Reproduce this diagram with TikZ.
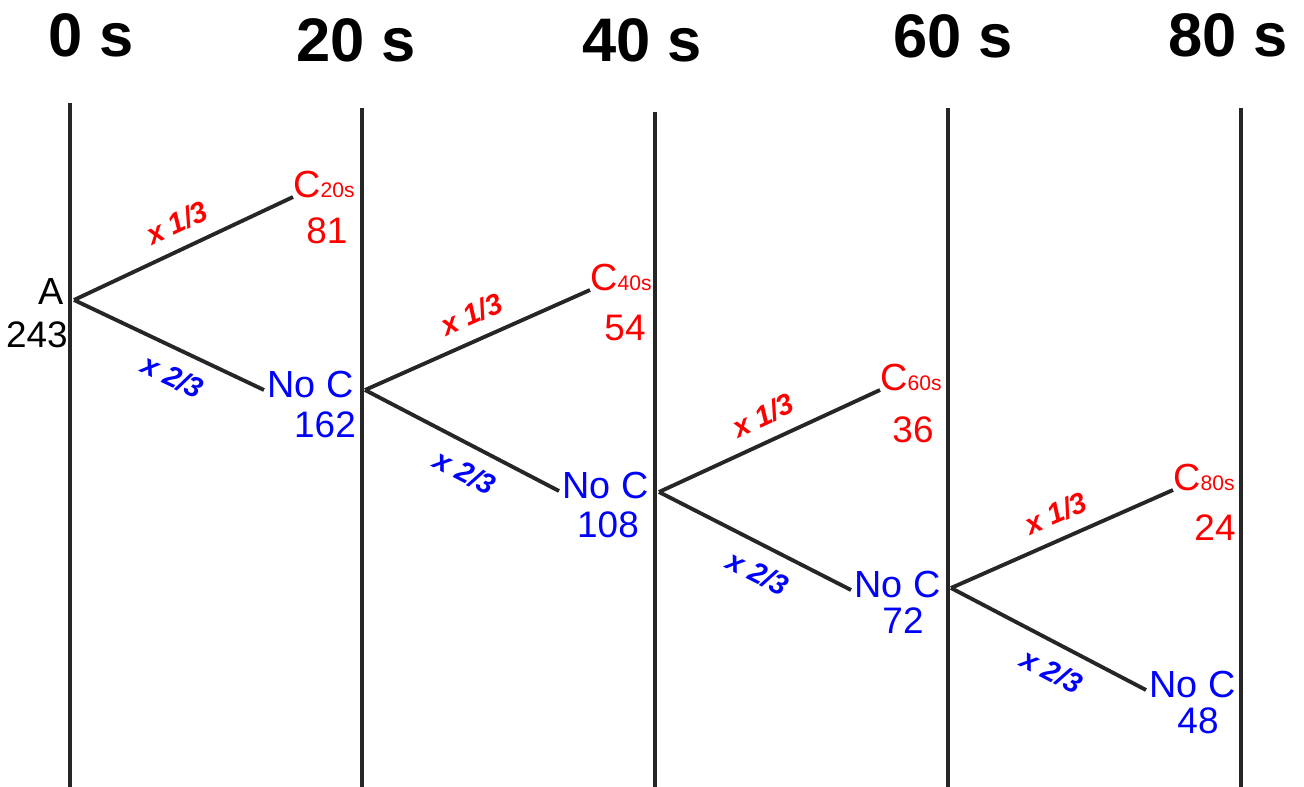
\documentclass[tikz,border=0pt]{standalone}
\usepackage{fontspec}
\setmainfont{Liberation Sans}
\usetikzlibrary{positioning}
\newcommand\tsub[1]{{\fontsize{12}{13}\selectfont#1}}

\begin{document}
\begin{tikzpicture}[
    x=0.02cm, y=-0.02cm,
    time/.style={font=\fontsize{35}{40}\selectfont\bfseries, anchor=base, inner sep=0pt},
    tline/.style={line width=2pt, black!85},
    branch/.style={line width=2.2pt, black!85},
    state/.style={font=\fontsize{21.5}{24}\selectfont, inner sep=0pt},
    cstate/.style={state, red, anchor=base west},
    nstate/.style={state, blue, anchor=base west},
    count/.style={font=\fontsize{21}{24}\selectfont, inner sep=0pt, anchor=base},
    rate/.style={font=\fontsize{16.5}{18}\selectfont\bfseries\itshape, inner sep=0pt, sloped},
    ratec/.style={rate, red, pos=0.52, above=7.5pt},
    raten/.style={rate, blue, pos=0.58, below=8pt},
]
\useasboundingbox (0,0) rectangle (1304,787);
\foreach \xx/\yy in {70/103, 362/108, 655/112, 948/108, 1241/108}
  \draw[tline] (\xx,\yy) -- (\xx,787);
\foreach \t/\xx/\yy in {0/91/57, 20/356/62, 40/642/62, 60/953/58, 80/1228/57}
  \node[time] (t\t) at (\xx,\yy) {\t\ s};

\node[state, anchor=base east] (a) at (64,304) {A};
\node[count, anchor=base east] (a0) at (68,347) {243};
\coordinate (b0) at (74,300);
\node[cstate] (c20) at (293,197) {C\tsub{20s}};
\node[count, red] (c20n) at (327,243) {81};
\node[nstate] (n20) at (267,397) {No C};
\node[count, blue] (n20n) at (325,437) {162};
\draw[branch] (b0) -- node[ratec] {x 1/3} (c20.base west);
\draw[branch] (b0) -- node[raten] {x 2/3} ([shift={(-3,-7)}]n20.base west);

\coordinate (b1) at (365,390);
\node[cstate] (c40) at (590,290) {C\tsub{40s}};
\node[count, red] (c40n) at (625,340) {54};
\node[nstate] (n40) at (562,498) {No C};
\node[count, blue] (n40n) at (608,537) {108};
\draw[branch] (b1) -- node[ratec] {x 1/3} (c40.base west);
\draw[branch] (b1) -- node[raten] {x 2/3} ([shift={(-3,-7)}]n40.base west);

\coordinate (b2) at (659,492);
\node[cstate] (c60) at (880,390) {C\tsub{60s}};
\node[count, red] (c60n) at (913,442) {36};
\node[nstate] (n60) at (854,597) {No C};
\node[count, blue] (n60n) at (903,633) {72};
\draw[branch] (b2) -- node[ratec] {x 1/3} (c60.base west);
\draw[branch] (b2) -- node[raten] {x 2/3} ([shift={(-3,-7)}]n60.base west);

\coordinate (b3) at (951,588);
\node[cstate] (c80) at (1173,490) {C\tsub{80s}};
\node[count, red] (c80n) at (1215,540) {24};
\node[nstate] (n80) at (1149,697) {No C};
\node[count, blue] (n80n) at (1198,733) {48};
\draw[branch] (b3) -- node[ratec] {x 1/3} (c80.base west);
\draw[branch] (b3) -- node[raten] {x 2/3} ([shift={(-3,-7)}]n80.base west);
\end{tikzpicture}
\end{document}
